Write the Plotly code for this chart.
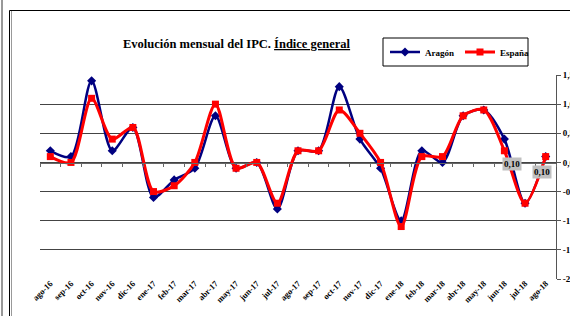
import plotly.graph_objects as go

months = ["ago-16", "sep-16", "oct-16", "nov-16", "dic-16", "ene-17", "feb-17", "mar-17",
          "abr-17", "may-17", "jun-17", "jul-17", "ago-17", "sep-17", "oct-17", "nov-17",
          "dic-17", "ene-18", "feb-18", "mar-18", "abr-18", "may-18", "jun-18", "jul-18", "ago-18"]
aragon = [0.2, 0.1, 1.4, 0.2, 0.6, -0.6, -0.3, -0.1, 0.8, -0.1, 0.0, -0.8,
          0.2, 0.2, 1.3, 0.4, -0.1, -1.0, 0.2, 0.0, 0.8, 0.9, 0.4, -0.7, 0.1]
espana = [0.1, 0.0, 1.1, 0.4, 0.6, -0.5, -0.4, 0.0, 1.0, -0.1, 0.0, -0.7,
          0.2, 0.2, 0.9, 0.5, 0.0, -1.1, 0.1, 0.1, 0.8, 0.9, 0.2, -0.7, 0.1]
ytick_vals = [-2.0, -1.5, -1.0, -0.5, 0.0, 0.5, 1.0, 1.5]
ytick_text = ["-2,0", "-1,5", "-1,0", "-0,5", "0,0", "0,5", "1,0", "1,5"]
label_months = ["jun-18", "ago-18"]
label_y = [-0.03, -0.16]
label_text = ["0,10", "0,10"]

SERIF = "Liberation Serif"
W, H = 570, 316
L, R, T, B = 40, 14, 75, 37
pw, ph = W - L - R, H - T - B

def px(x):
    return (x - L) / pw

def py(y):
    return (H - B - y) / ph

fig = go.Figure()
# dummy trace for zero-line axis with boundary ticks
fig.add_trace(go.Scatter(x=months, y=espana, xaxis="x2", yaxis="y", mode="lines",
                         line=dict(width=0), opacity=0, showlegend=False, hoverinfo="skip"))
fig.add_trace(go.Scatter(x=months, y=aragon, name="Aragón", mode="lines+markers",
                         line=dict(color="#000080", width=2.5, shape="spline", smoothing=0.8),
                         marker=dict(symbol="diamond", size=7, color="#000080")))
fig.add_trace(go.Scatter(x=months, y=espana, name="España", mode="lines+markers",
                         line=dict(color="#FF0000", width=3, shape="spline", smoothing=0.8),
                         marker=dict(symbol="square", size=7, color="#FF0000")))

annotations = [dict(x=px(237), y=py(44), xref="paper", yref="paper", showarrow=False,
                    xanchor="center", yanchor="middle",
                    text="<b>Evolución mensual del IPC. <u>Índice general</u></b>",
                    font=dict(family=SERIF, size=12.5, color="black"))]
shifts = [8, -4]
for m, yv, t, s in zip(label_months, label_y, label_text, shifts):
    annotations.append(dict(x=m, y=yv, xref="x", yref="y", text="<b>" + t + "</b>",
                            showarrow=False, xshift=s, bgcolor="#c0c0c0", borderpad=1,
                            font=dict(family=SERIF, size=9, color="black")))

shapes = [
    dict(type="line", xref="paper", yref="paper", x0=px(2), x1=px(2), y0=-1, y1=2,
         line=dict(color="#333", width=1)),
    dict(type="rect", xref="paper", yref="paper", x0=px(9.5), x1=px(700), y0=py(10.5), y1=-1,
         line=dict(color="black", width=1)),
    dict(type="line", xref="paper", yref="paper", x0=px(11.5), x1=px(11.5), y0=py(11), y1=-1,
         line=dict(color="#999", width=1)),
    dict(type="rect", xref="paper", yref="paper", x0=px(383), x1=px(528), y0=py(66), y1=py(38),
         line=dict(color="black", width=1), fillcolor="white", layer="below"),
]

fig.update_layout(
    width=W, height=H,
    margin=dict(l=L, r=R, t=T, b=B, autoexpand=False),
    paper_bgcolor="white", plot_bgcolor="white",
    font=dict(family=SERIF, color="black"),
    showlegend=True,
    legend=dict(orientation="h", x=px(385), y=py(52), xanchor="left", yanchor="middle",
                bgcolor="rgba(0,0,0,0)", borderwidth=0, entrywidth=30, entrywidthmode="pixels",
                font=dict(family=SERIF, size=9, color="black", weight="bold"), itemwidth=30,
                tracegroupgap=0),
    xaxis=dict(type="category", categoryarray=months, categoryorder="array",
               range=[-0.5, 24.5], showgrid=False, showline=False, zeroline=False,
               ticks="", tickangle=-45, automargin=False, ticklabelstandoff=-3,
               tickfont=dict(family=SERIF, size=8.5, color="black", weight="bold")),
    xaxis2=dict(type="category", categoryarray=months, categoryorder="array",
                range=[-0.5, 24.5], overlaying="x", anchor="free", position=py(163),
                showgrid=False, showline=True, linecolor="#666", linewidth=1,
                ticks="outside", ticklen=3, tickcolor="#666", tickson="boundaries",
                showticklabels=False, zeroline=False, automargin=False),
    yaxis=dict(range=[-2, 1.5], side="right", tickvals=ytick_vals, ticktext=ytick_text,
               showgrid=True, gridcolor="#444", gridwidth=1, zeroline=False,
               showline=True, linecolor="#555", linewidth=1, ticks="outside", ticklen=4,
               tickcolor="#555", automargin=False,
               tickfont=dict(family=SERIF, size=9, color="black", weight="bold")),
    annotations=annotations,
    shapes=shapes,
)

fig.write_html("out.html", config={"displayModeBar": False},
               post_script="document.body.style.margin='0px';document.body.style.overflow='hidden';")
